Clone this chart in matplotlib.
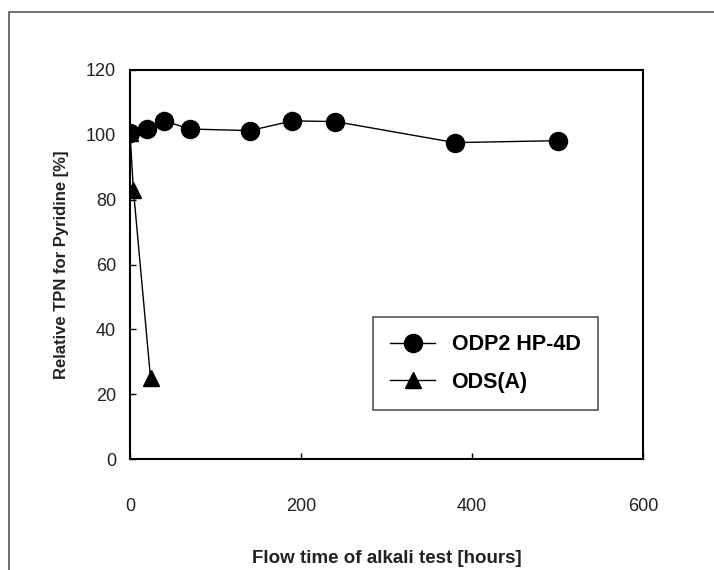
import matplotlib
matplotlib.use("Agg")
import matplotlib.pyplot as plt
from matplotlib.patches import Rectangle

plt.rcParams['font.family'] = ['Liberation Sans', 'DejaVu Sans']

# ODP2 HP-4D
odp_hours = [0, 20, 40, 70, 140, 190, 240, 380, 500]
odp_tpn = [100.5, 101.8, 104.3, 101.8, 101.3, 104.3, 104.1, 97.6, 98.2]

# ODS(A)
ods_hours = [0, 4, 24]
ods_tpn = [100.5, 83, 25]

x_ticks = [0, 200, 400, 600]
y_ticks = [0, 20, 40, 60, 80, 100, 120]

fig = plt.figure(figsize=(7.14, 5.70), dpi=100)

# outer frame from the original figure (right/bottom edges cut off)
fig.patches.append(Rectangle((9 / 714, -0.05), 1.2, (570 - 12) / 570 + 0.05,
                             transform=fig.transFigure, fill=False,
                             edgecolor='#555555', linewidth=1.2))

ax = fig.add_axes([130 / 714, (570 - 459) / 570, (643 - 130) / 714, (459 - 70) / 570])

ax.plot(odp_hours, odp_tpn, color='black', linewidth=1, marker='o',
        markersize=13, label='ODP2 HP-4D', zorder=3)
ax.plot(ods_hours, ods_tpn, color='black', linewidth=1, marker='^',
        markersize=12, label='ODS(A)', zorder=3)

ax.set_xlim(0, 600)
ax.set_ylim(0, 120)
ax.set_xticks(x_ticks)
ax.set_yticks(y_ticks)
ax.tick_params(direction='in', length=4, width=1, labelsize=13,
               labelcolor='#222222')
ax.tick_params(axis='x', pad=28)
ax.tick_params(axis='y', pad=10)
for s in ax.spines.values():
    s.set_linewidth(1.5)

ax.set_xlabel('Flow time of alkali test [hours]', fontsize=13.5,
              fontweight='bold', labelpad=25, color='#222222')
ax.set_ylabel('Relative TPN for Pyridine [%]', fontsize=12,
              fontweight='bold', labelpad=12, color='#222222')

leg = ax.legend(loc='upper left', bbox_to_anchor=((373 - 130) / 513, (459 - 317) / 389),
                fancybox=False, framealpha=1, edgecolor='#555555',
                handlelength=2.1, handletextpad=0.75, borderpad=0.8,
                borderaxespad=0, labelspacing=0.76,
                prop={'weight': 'bold', 'size': 15.5})
leg.get_frame().set_linewidth(1.2)

fig.savefig('out.png', dpi=100)
